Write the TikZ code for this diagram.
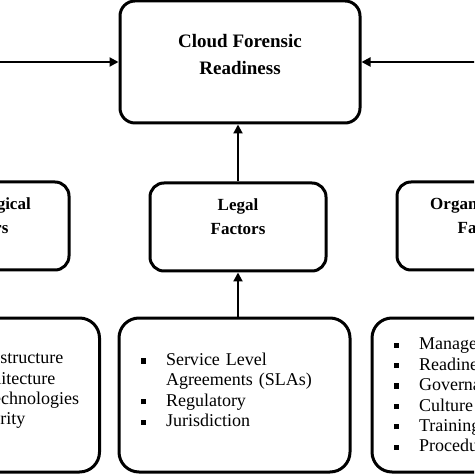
\documentclass[tikz,border=0pt]{standalone}
\usepackage{fontspec}
\setmainfont{Liberation Serif}
\usetikzlibrary{arrows.meta,positioning}

\newcommand{\sqbul}{\raisebox{1pt}{\rule{2.6pt}{2.6pt}}}
\newcommand{\bitem}[1]{\mbox{\makebox[12.5pt][l]{\sqbul}#1}}
\newcommand{\bcont}[1]{\mbox{\hspace*{12.5pt}#1}}

\begin{document}
\begin{tikzpicture}[
    x=0.5pt, y=-0.5pt,
    titlebox/.style={draw, line width=1.5pt, rounded corners=7.5pt, minimum width=120pt, minimum height=61pt},
    factorbox/.style={draw, line width=1.5pt, rounded corners=7pt, minimum width=88pt, minimum height=44pt},
    listbox/.style={draw, line width=1.5pt, rounded corners=10pt, minimum height=77pt,
        inner xsep=11pt, inner ysep=0pt, text width=93.5pt, align=left,
        font=\fontsize{9}{10.2}\selectfont},
    titlelabel/.style={align=center, font=\fontsize{9.5}{13.5}\selectfont\bfseries},
    factorlabel/.style={align=center, font=\fontsize{8.5}{12}\selectfont\bfseries},
    arr/.style={-{Triangle[length=4.5pt,width=4.5pt]}, line width=1pt},
    ]
    \useasboundingbox (0,0) rectangle (474,474);
    \clip (0,0) rectangle (474,474);

    \node[titlebox] (cfr) at (240,62) {};
    \node[titlelabel] (cfrlabel) at ([yshift=3.5pt]cfr.center) {Cloud Forensic\\Readiness};

    \node[factorbox] (techfac) at (-19,226) {};
    \node[factorlabel] (techlabel) at ([yshift=5.25pt]techfac.center) {Technological\\Factors};
    \node[factorbox] (legalfac) at (238,227) {};
    \node[factorlabel] (legallabel) at ([yshift=5.25pt]legalfac.center) {Legal\\Factors};
    \node[factorbox] (orgfac) at (485,226) {};
    \node[factorlabel] (orglabel) at ([yshift=5.25pt]orgfac.center) {Organizational\\Factors};

    \node[listbox] (techlist) at (-16,395) {%
        \bitem{Cloud Infrastructure}\\
        \bitem{Cloud Architecture}\\
        \bitem{Forensic Technologies}\\
        \bitem{Cloud Security}\par\kern5pt};
    \node[listbox] (legallist) at (234.5,395) {%
        \bitem{Service Level}\\
        \bcont{Agreements (SLAs)}\\
        \bitem{Regulatory}\\
        \bitem{Jurisdiction}\par\kern5pt};
    \node[listbox] (orglist) at (487.5,395) {%
        \bitem{Management}\\
        \bitem{Readiness}\\
        \bitem{Governance}\\
        \bitem{Culture}\\
        \bitem{Training}\\
        \bitem{Procedures}};

    \draw[arr] (techfac.north) |- (cfr.west);
    \draw[arr] (orgfac.north) |- (cfr.east);
    \draw[arr] (legalfac.north) -- (legalfac.north |- cfr.south);
    \draw[arr] (techlist.north -| techfac.south) -- (techfac.south);
    \draw[arr] (legallist.north -| legalfac.south) -- (legalfac.south);
    \draw[arr] (orglist.north -| orgfac.south) -- (orgfac.south);
\end{tikzpicture}
\end{document}
